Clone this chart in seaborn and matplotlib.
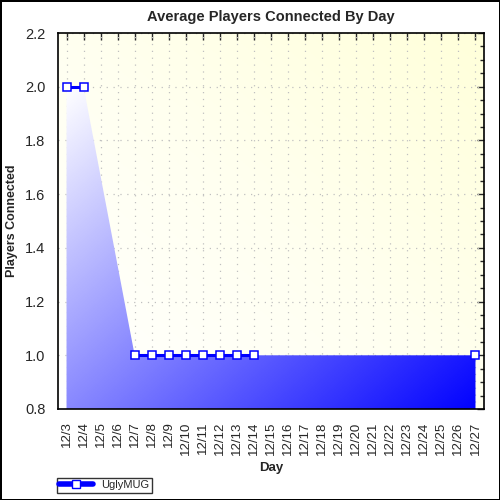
import numpy as np
import pandas as pd
import matplotlib
matplotlib.use("Agg")
import matplotlib.pyplot as plt
import seaborn as sns
from matplotlib.colors import LinearSegmentedColormap
from matplotlib.lines import Line2D

# data (None = no point that day)
days = ["12/%d" % d for d in range(3, 28)]
players = [2, 2, None, None, 1, 1, 1, 1, 1, 1, 1, 1,
           None, None, None, None, None, None, None, None, None, None, None, None, 1]
series_name = "UglyMUG"

df = pd.DataFrame({"day": days, "players": players})
df["idx"] = np.arange(len(days))
# runs of consecutive days with a value -> separate line pieces
df["segment"] = df["players"].isna().cumsum()
pts = df.dropna()

sns.set_style("white")
plt.rcParams["font.family"] = ["Liberation Sans", "DejaVu Sans"]

fig = plt.figure(figsize=(5, 5), dpi=100)
fig.patch.set_edgecolor("black")
fig.patch.set_linewidth(2)
ax = fig.add_axes([0.116, 0.182, 0.852, 0.752])

xlim = (-0.5, len(days) - 0.5)
ylim = (0.8, 2.2)
ax.set_xlim(*xlim)
ax.set_ylim(*ylim)

# yellow background gradient
gx, gy = np.meshgrid(np.linspace(0, 1, 200), np.linspace(0, 1, 200))
t = (gx + (1 - gy)) / 2
bg_cmap = LinearSegmentedColormap.from_list("bg", ["#ffffff", "#fffff0", "#ffffda"])
ax.imshow(t, cmap=bg_cmap, extent=[*xlim, *ylim], aspect="auto", origin="upper", zorder=0)

ax.grid(True, color="#c0c0c0", linestyle=(0, (1, 4.5)), linewidth=0.9)

# gradient fill under the (gap-bridged) line
poly = ax.fill_between(pts["idx"], pts["players"], ylim[0], color="none", zorder=2)
fill_cmap = LinearSegmentedColormap.from_list("fill", ["#ffffff", "#0000ff"])
t2 = (gx + gy) / 2
im = ax.imshow(t2, cmap=fill_cmap, extent=[*xlim, *ylim], aspect="auto", origin="upper",
               vmin=0.08, vmax=1.0, zorder=2)
im.set_clip_path(poly.get_paths()[0], transform=ax.transData)

sns.lineplot(data=pts, x="idx", y="players", units="segment", estimator=None, ax=ax,
             color="#0000ff", linewidth=2.2, marker="s", markersize=5.5,
             markerfacecolor="white", markeredgecolor="#0000ff", markeredgewidth=1.1,
             zorder=3, clip_on=False)

ax.set_xticks(df["idx"])
ax.set_xticklabels(days, rotation=90, fontsize=9.5)
yt = np.arange(0.8, 2.21, 0.2)
ax.set_yticks(yt)
ax.set_yticklabels(["%.1f" % v for v in yt], fontsize=10.5)
ax.set_yticks(np.arange(0.8, 2.21, 0.05), minor=True)

ax.tick_params(axis="x", which="major", direction="out", length=5, width=1, pad=4)
ax.tick_params(axis="y", which="both", direction="out", width=1, pad=4)
ax.tick_params(axis="y", which="major", length=5)
ax.tick_params(axis="y", which="minor", length=3)

# inward ticks on the top and right edges
top = ax.secondary_xaxis("top")
top.set_xticks(df["idx"])
top.set_xticklabels([])
top.tick_params(direction="in", length=5, width=1)
right = ax.secondary_yaxis("right")
right.set_yticks(yt)
right.set_yticks(np.arange(0.8, 2.21, 0.05), minor=True)
right.set_yticklabels([])
right.tick_params(which="both", direction="in", width=1)
right.tick_params(which="major", length=5)
right.tick_params(which="minor", length=3)
for a in (top, right):
    for s in a.spines.values():
        s.set_visible(False)

for s in ax.spines.values():
    s.set_color("black")
    s.set_linewidth(1.2)

ax.set_title("Average Players Connected By Day", fontsize=10.5, fontweight="bold", pad=9)
ax.set_xlabel("Day", fontsize=9.5, fontweight="bold", labelpad=5)
ax.set_ylabel("Players Connected", fontsize=9, fontweight="bold", labelpad=5)

handle = Line2D([], [], color="#0000ff", linewidth=4, marker="s", markersize=6,
                markerfacecolor="white", markeredgecolor="#0000ff")
leg = fig.legend([handle], [series_name], loc="lower left", bbox_to_anchor=(0.114, 0.015),
                 fontsize=8, frameon=True, fancybox=False, handlelength=3,
                 borderpad=0.2, handletextpad=0.8, borderaxespad=0)
leg.get_frame().set_edgecolor("black")
leg.get_frame().set_linewidth(1)

fig.savefig("out.png", dpi=100, edgecolor=fig.get_edgecolor())
